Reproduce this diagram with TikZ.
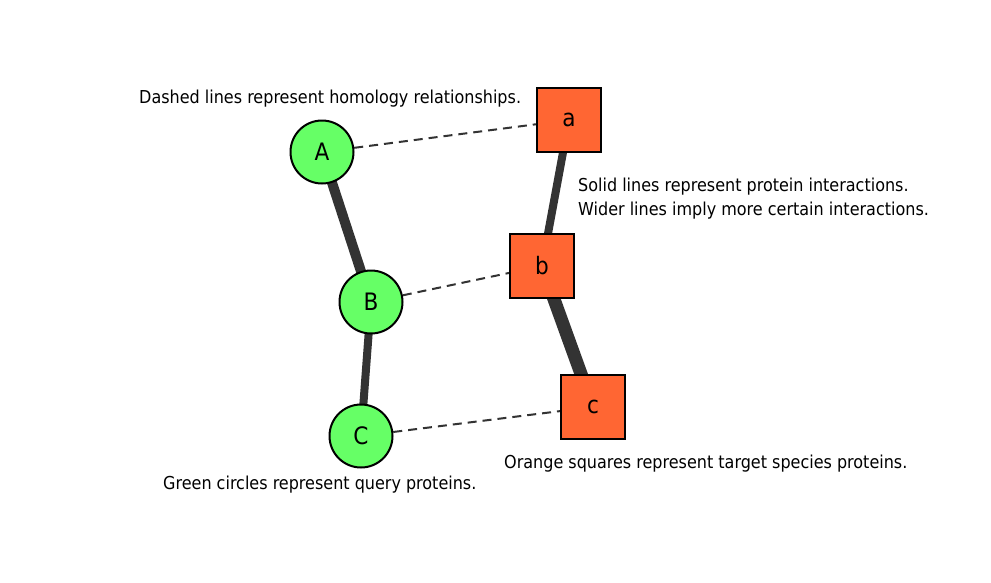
\documentclass[tikz,border=0pt]{standalone}
\usepackage{fontspec}
\setmainfont{DejaVu Sans Condensed}
\usetikzlibrary{backgrounds}
\definecolor{qgreen}{HTML}{66FF66}
\definecolor{torange}{HTML}{FF6633}
\definecolor{edgegray}{HTML}{333333}
\begin{document}
\begin{tikzpicture}[x=1pt,y=-1pt,
  query/.style={circle,draw=black,line width=2pt,fill=qgreen,minimum size=63pt,inner sep=0pt,font=\fontsize{24}{28}\selectfont},
  target/.style={rectangle,draw=black,line width=1.6pt,fill=torange,minimum size=64pt,inner sep=0pt,font=\fontsize{24}{28}\selectfont},
  interact/.style={draw=edgegray,line cap=butt},
  homol/.style={draw=edgegray,line width=2pt,dash pattern=on 9pt off 6pt},
  legend/.style={anchor=west,inner sep=0pt,font=\fontsize{17.8}{21}\selectfont}]
\useasboundingbox (0,0) rectangle (991,582);
\node[query] (A) at (322,152) {A};
\node[query] (B) at (371,302) {B};
\node[query] (C) at (361,436) {C};
\node[target] (a) at (569,120) {a};
\node[target] (b) at (542,266) {b};
\node[target] (c) at (593,407) {c};
\node[legend] (t1) at (139,99) {Dashed lines represent homology relationships.};
\node[legend] (t2) at (578,187) {Solid lines represent protein interactions.};
\node[legend] (t3) at (578,211) {Wider lines imply more certain interactions.};
\node[legend] (t4) at (504,464) {Orange squares represent target species proteins.};
\node[legend] (t5) at (163,485) {Green circles represent query proteins.};
\begin{scope}[on background layer]
\fill[white] (0,0) rectangle (991,582);
\draw[interact,line width=10pt] (A.center) -- (B.center);
\draw[interact,line width=8pt] (B.center) -- (C.center);
\draw[interact,line width=8pt] (a.center) -- (b.center);
\draw[interact,line width=13pt] (b.center) -- (c.center);
\draw[homol] (A) -- (a);
\draw[homol] (B) -- (b);
\draw[homol] (C) -- (c);
\end{scope}
\end{tikzpicture}
\end{document}
